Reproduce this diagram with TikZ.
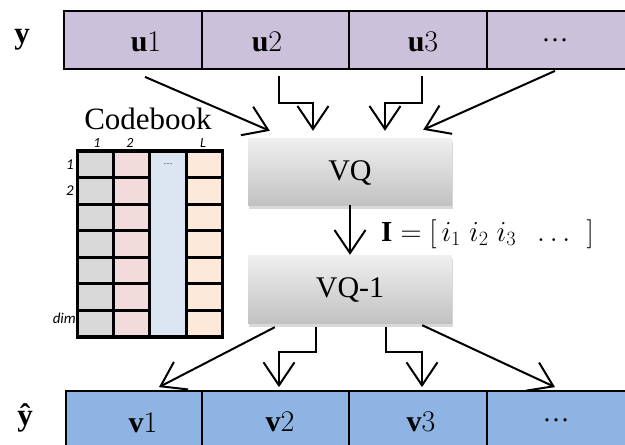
\RequirePackage{fix-cm}
\documentclass[tikz,border=0pt]{standalone}
\usepackage{fontspec}
\setmainfont{Liberation Serif}
\newfontfamily\labelsans{Carlito}
\usetikzlibrary{arrows.meta,shadows,calc}

\definecolor{ufill}{HTML}{CCC1DA}
\definecolor{vfill}{HTML}{8EB4E3}
\definecolor{cbgray}{HTML}{D9D9D9}
\definecolor{cbpink}{HTML}{F2DCDB}
\definecolor{cbblue}{HTML}{DCE6F2}
\definecolor{cbpeach}{HTML}{FDE9D9}

\begin{document}
\begin{tikzpicture}[x=1pt,y=-1pt,
  ucell/.style={draw=black, line width=1.8pt, fill=ufill, minimum height=58pt, inner sep=0pt},
  vcell/.style={draw=black, line width=1.8pt, fill=vfill, minimum height=59pt, inner sep=0pt},
  celltext/.style={font=\fontsize{30}{34}\selectfont, inner sep=0pt},
  cbcell/.style={draw=black, line width=3.2pt, minimum width=36.5pt, inner sep=0pt},
  cbidx/.style={font=\labelsans\itshape\fontsize{15}{17}\selectfont, inner sep=0pt},
  colidx/.style={cbidx, font=\labelsans\itshape\fontsize{14}{16}\selectfont, anchor=base,
    text height=9pt, text depth=0pt},
  quant/.style={minimum width=204pt, inner sep=0pt, top color=black!6, bottom color=black!24,
    drop shadow={shadow xshift=1pt, shadow yshift=-4pt, opacity=0.3}},
  quanttext/.style={font=\fontsize{30}{34}\selectfont},
  arr/.style={line width=2pt, -{Straight Barb[length=23pt, width=31pt, line width=2pt]}}
]
\useasboundingbox (0,0) rectangle (625,445);

% input vector y split into sub-vectors
\node[ucell, minimum width=138pt] (u1) at (133,40) {};
\node[ucell, minimum width=147pt] (u2) at (275.5,40) {};
\node[ucell, minimum width=138pt] (u3) at (418,40) {};
\node[ucell, minimum width=143pt] (u4) at (558.5,40) {};
\node[celltext] (tu1) at (146,42) {$\mathbf{u}1$};
\node[celltext] (tu2) at (267,42) {$\mathbf{u}2$};
\node[celltext] (tu3) at (423,42) {$\mathbf{u}3$};
\node[celltext, font=\fontsize{27}{30}\selectfont] (tu4) at (555,40) {\ldots};
\node[font=\fontsize{31}{34}\selectfont, inner sep=0pt] (ylab) at (22,40) {$\mathbf{y}$};

% reconstructed vector
\node[vcell, minimum width=136pt] (v1) at (134,420.5) {};
\node[vcell, minimum width=147pt] (v2) at (275.5,420.5) {};
\node[vcell, minimum width=138pt] (v3) at (418,420.5) {};
\node[vcell, minimum width=143pt] (v4) at (558.5,420.5) {};
\node[celltext] (tv1) at (143,423) {$\mathbf{v}1$};
\node[celltext] (tv2) at (280,422) {$\mathbf{v}2$};
\node[celltext] (tv3) at (421,422) {$\mathbf{v}3$};
\node[celltext, font=\fontsize{27}{30}\selectfont] (tv4) at (556,420) {\ldots};
\node[font=\bfseries\fontsize{31}{34}\selectfont, inner sep=0pt] (yhat) at (25,418) {ŷ};

% quantiser and inverse quantiser
\node[quant, minimum height=67pt] (vq) at (350,171.5) {};
\node[quanttext] (vqt) at (350,173) {VQ};
\node[quant, minimum height=68pt] (vqi) at (350,289) {};
\node[quanttext] (vqit) at (350,290) {VQ-1};

\node[font=\fontsize{29}{33}\selectfont, anchor=west, inner sep=0pt] (idx) at (381,234)
  {$\mathbf{I}=[\,i_1\;i_2\;i_3\;\;\ldots\;\;]$};

% codebook
\node[font=\fontsize{31}{34}\selectfont, inner sep=0pt, anchor=base, text depth=0pt]
  (cbt) at (148,129.5) {Codebook};
\foreach \r in {0,...,6} {
  \node[cbcell, fill=cbgray, minimum height=26.57pt] (ca\r) at (95.5,{164.3+26.57*\r}) {};
  \node[cbcell, fill=cbpink, minimum height=26.57pt] (cb\r) at (132,{164.3+26.57*\r}) {};
  \node[cbcell, fill=cbpeach, minimum height=26.57pt] (cd\r) at (204.5,{164.3+26.57*\r}) {};
}
\node[cbcell, fill=cbblue, minimum height=186pt] (cc) at (168,244) {};
\node[font=\fontsize{9}{10}\selectfont, inner sep=0pt] (ccdots) at (168,164) {\ldots};
\node[colidx] (col1) at (97,147.5) {1};
\node[colidx] (col2) at (130,147.5) {2};
\node[colidx] (colL) at (203,147.5) {L};
\node[cbidx, anchor=east] (row1) at (74,165) {1};
\node[cbidx, anchor=east] (row2) at (74,191) {2};
\node[cbidx, anchor=east] (rowd) at (76,318) {dim};

% sub-vectors into the quantiser
\draw[arr] ($(u1.south)+(12,7)$) -- ($(vq.north west)+(22,-7)$);
\draw[arr] ($(u2.south)+(3.5,6)$) |- ($(vq.north)+(-37,-35)$) -- ($(vq.north)+(-37,-7)$);
\draw[arr] ($(u3.south)+(4,6)$) |- ($(vq.north)+(35,-35)$) -- ($(vq.north)+(35,-7)$);
\draw[arr] ($(u4.south)+(-3.5,1)$) -- ($(vq.north east)+(-29,-8)$);

% index vector
\draw[arr] (vq.south) -- (vqi.north);

% reconstructed sub-vectors
\draw[arr] ($(vqi.south west)+(27,4)$) -- ($(v1.north)+(25,-3)$);
\draw[arr] ($(vqi.south)+(-34,4)$) |- ($(v2.north)+(3.5,-38)$) -- ($(v2.north)+(3.5,-3)$);
\draw[arr] ($(vqi.south)+(36,4)$) |- ($(v3.north)+(4,-38)$) -- ($(v3.north)+(4,-3)$);
\draw[arr] ($(vqi.south east)+(-30,2)$) -- ($(v4.north)+(-3.5,-3)$);
\end{tikzpicture}
\end{document}
